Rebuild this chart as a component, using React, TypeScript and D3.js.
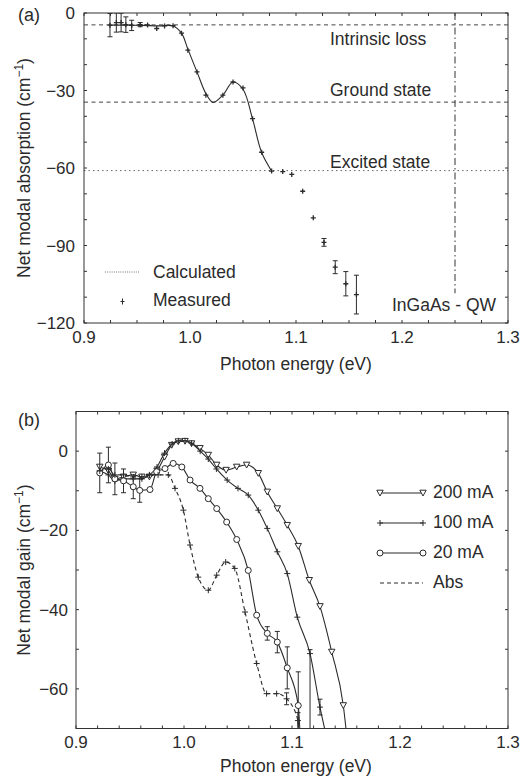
import React from "react";
import * as d3 from "d3";

const FONT = "'Liberation Sans', Arial, Helvetica, sans-serif";
const INK = "#2b2b2b";

// ---------------- Panel (a): Net modal absorption ----------------
const aMeasEnergy = [0.9245, 0.9305, 0.935, 0.9395, 0.945, 0.953, 0.96, 0.9686, 0.976, 0.984, 0.992, 0.998, 1.0066, 1.015, 1.031, 1.0406, 1.05, 1.059, 1.0676, 1.077, 1.0875, 1.096, 1.1063, 1.1163, 1.1264, 1.137, 1.147, 1.157];
const aMeasValue = [-4.7, -3.7, -3.7, -4.5, -4.8, -4.5, -4.6, -6, -5, -4.9, -7.8, -14.4, -22.8, -31.8, -31.8, -26.7, -29, -40.9, -53.9, -61.2, -61.4, -62.5, -69, -79.3, -88.8, -98.4, -104.8, -109];
const aMeasErr = [4.5, 3.7, 3.6, 3, 2, 0.8, 0, 0, 0, 0, 0, 0, 0, 0, 0, 0, 0, 0, 0, 0, 0, 0, 0, 0, 1.5, 2.5, 4.7, 7.5];

const aCalcEnergy = [0.925, 0.94, 0.955, 0.97, 0.984, 0.992, 0.998, 1.0066, 1.015, 1.0217, 1.031, 1.0406, 1.05, 1.059, 1.0676, 1.077];
const aCalcValue = [-4.7, -4.7, -4.8, -5, -5, -7.8, -14, -22.8, -31.2, -34.6, -31.8, -26.7, -29.5, -41, -54, -61.2];

const aLevelNames = ["Intrinsic loss", "Ground state", "Excited state"];
const aLevelValues = [-4.6, -34.5, -61];
const aCutoffEnergy = 1.25;
const aCutoffLowest = -108.5;
const aXTicks = [0.9, 1.0, 1.1, 1.2, 1.3];
const aYTicks = [0, -30, -60, -90, -120];
const aLegend = ["Calculated", "Measured"];

// ---------------- Panel (b): Net modal gain ----------------
const b200Energy = [0.922, 0.93, 0.936, 0.944, 0.953, 0.961, 0.968, 0.975, 0.982, 0.9886, 0.9947, 1.001, 1.007, 1.0148, 1.0225, 1.0303, 1.039, 1.0488, 1.058, 1.0688, 1.0771, 1.0864, 1.0956, 1.1058, 1.116, 1.1259, 1.1368, 1.1475, 1.153];
const b200Gain = [-4, -5, -7, -6.5, -6, -6.5, -6.5, -5, -1.5, 1.5, 2.4, 2.5, 1.9, 0.7, -1, -3.5, -4.8, -4, -3.5, -5.6, -10.3, -14.5, -18.7, -24, -32.6, -39.2, -50.7, -64.2, -78];

const b100Energy = [0.922, 0.93, 0.936, 0.944, 0.953, 0.961, 0.968, 0.975, 0.982, 0.989, 0.995, 1.001, 1.007, 1.015, 1.0225, 1.03, 1.04, 1.05, 1.0595, 1.0688, 1.0771, 1.0864, 1.0956, 1.1049, 1.1167, 1.1259, 1.1353];
const b100Gain = [-5, -6, -7.5, -7, -7, -7, -6, -4, -0.5, 1.8, 2.6, 2.6, 2, 0, -2, -4.5, -7.3, -9.4, -11.1, -14.9, -19.5, -25.4, -30.9, -41.9, -51.1, -64.6, -76];
const b100ErrUp = [0, 0, 0, 0, 0, 0, 0, 0, 0, 0, 0, 0, 0, 0, 0, 0, 0, 0, 0, 0, 0, 0, 0, 0, 1, 2, 0];
const b100ErrDown = [0, 0, 0, 0, 0, 0, 0, 0, 0, 0, 0, 0, 0, 0, 0, 0, 0, 0, 0, 0, 0, 0, 0, 0, 25, 2, 0];

const b20Energy = [0.922, 0.93, 0.936, 0.944, 0.953, 0.959, 0.9685, 0.9747, 0.9824, 0.99, 0.998, 1.0056, 1.0148, 1.0225, 1.0303, 1.0395, 1.0488, 1.0595, 1.0673, 1.0771, 1.0864, 1.0956, 1.1058, 1.1082];
const b20Gain = [-5.5, -3.5, -7, -7.5, -9, -9.9, -9.7, -5.2, -4.4, -3.1, -4, -7.3, -9.4, -12, -14.5, -17.9, -22.3, -30.1, -41.4, -46, -48.2, -54.7, -64.2, -76];
const b20ErrUp = [5, 4.5, 4, 3, 3, 3, 0, 0, 0, 0, 0, 0, 0, 0, 0, 0, 0, 0, 0, 1.7, 2.7, 5.3, 8.5, 0];
const b20ErrDown = [5, 4.5, 4, 3, 3, 3, 0, 0, 0, 0, 0, 0, 0, 0, 0, 0, 0, 0, 0, 1.7, 2.7, 5.3, 10, 0];

const bAbsEnergy = [0.922, 0.93, 0.936, 0.944, 0.953, 0.961, 0.968, 0.976, 0.9855, 0.9917, 0.9994, 1.0056, 1.0132, 1.0225, 1.0303, 1.0386, 1.047, 1.0565, 1.0673, 1.0765, 1.0858, 1.095, 1.1055, 1.1065];
const bAbsGain = [-5, -4.5, -6, -6, -6.5, -6.5, -6, -6, -6, -9.4, -14.9, -23.7, -31.8, -35.1, -31.3, -28, -29.6, -40.6, -53.6, -61.2, -61.2, -62.5, -68, -76];
const bAbsErr = [0, 0, 0, 0, 0, 0, 0, 0, 0, 0, 0, 0, 0, 0, 0, 0, 0, 0, 0, 0, 0, 1.5, 2, 0];

const bXTicks = [0.9, 1.0, 1.1, 1.2, 1.3];
const bYTicks = [0, -20, -40, -60];
const bLegend = ["200 mA", "100 mA", "20 mA", "Abs"];

type MarkerKind = "tri" | "plus" | "circle" | "none";

function Marker({ kind, x, y }: { kind: MarkerKind; x: number; y: number }) {
  if (kind === "tri")
    return <path d={`M${x - 3.2},${y - 2.8}L${x + 3.2},${y - 2.8}L${x},${y + 3}Z`} fill="#fff" stroke={INK} strokeWidth={1} />;
  if (kind === "circle") return <circle cx={x} cy={y} r={3} fill="#fff" stroke={INK} strokeWidth={1} />;
  if (kind === "plus")
    return <path d={`M${x - 3},${y}H${x + 3}M${x},${y - 3}V${y + 3}`} stroke={INK} strokeWidth={1} fill="none" />;
  return null;
}

function ErrBar({ x, y1, y2 }: { x: number; y1: number; y2: number }) {
  return (
    <path d={`M${x},${y1}V${y2}M${x - 2.5},${y1}H${x + 2.5}M${x - 2.5},${y2}H${x + 2.5}`} stroke={INK} strokeWidth={1} fill="none" />
  );
}

export default function App() {
  const xa = d3.scaleLinear().domain([0.9, 1.3]).range([84, 508]);
  const ya = d3.scaleLinear().domain([-120, 0]).range([323, 13]);
  const xb = d3.scaleLinear().domain([0.9, 1.3]).range([76, 508]);
  const yb = d3.scaleLinear().domain([-70, 10]).range([728.5, 411.5]);
  const fmtX = d3.format(".1f");
  const fmtY = d3.format("d");

  const aCalcLine = d3
    .line<number>()
    .x((_, i) => xa(aCalcEnergy[i]))
    .y((d) => ya(d))
    .curve(d3.curveCatmullRom.alpha(0.5))(aCalcValue) as string;

  const bSeries = [
    { name: bLegend[0], E: b200Energy, V: b200Gain, up: null as number[] | null, dn: null as number[] | null, marker: "tri" as MarkerKind, dash: undefined as string | undefined },
    { name: bLegend[1], E: b100Energy, V: b100Gain, up: b100ErrUp, dn: b100ErrDown, marker: "plus" as MarkerKind, dash: undefined },
    { name: bLegend[2], E: b20Energy, V: b20Gain, up: b20ErrUp, dn: b20ErrDown, marker: "circle" as MarkerKind, dash: undefined },
    { name: bLegend[3], E: bAbsEnergy, V: bAbsGain, up: bAbsErr, dn: bAbsErr, marker: "plus" as MarkerKind, dash: "4,3" },
  ];

  const [ax0, ax1] = xa.range();
  const [ay0, ay1] = ya.range();
  const [bx0, bx1] = xb.range();
  const [by0, by1] = yb.range();

  const aMinorX = d3.range(0.9, 1.3001, 0.025);
  const aMinorY = d3.range(-120, 0.01, 10);
  const bMinorX = d3.range(0.9, 1.3001, 0.02);
  const bMinorY = d3.range(-70, 10.01, 10);

  return (
    <svg width={521} height={777} style={{ position: "absolute", left: 0, top: 0, background: "#fff" }} fontFamily={FONT} fill={INK}>
      <defs>
        <clipPath id="clipA">
          <rect x={ax0} y={ay1} width={ax1 - ax0} height={ay0 - ay1} />
        </clipPath>
        <clipPath id="clipB">
          <rect x={bx0} y={by1} width={bx1 - bx0} height={by0 - by1} />
        </clipPath>
      </defs>

      {/* ================= Panel (a) ================= */}
      <text x={18} y={21} fontSize={18}>(a)</text>
      {aLevelValues.map((v, i) => (
        <line key={"lv" + i} x1={ax0} x2={ax1} y1={ya(v)} y2={ya(v)} stroke={i === 2 ? "#666" : "#444"} strokeWidth={1} strokeDasharray={i === 2 ? "1.5,3" : "4,3.5"} />
      ))}
      <line x1={xa(aCutoffEnergy)} x2={xa(aCutoffEnergy)} y1={ay1} y2={ya(aCutoffLowest)} stroke="#333" strokeWidth={1} strokeDasharray="7,3,1.5,3" />
      <text x={330} y={ya(aLevelValues[0]) + 20} fontSize={17.5}>{aLevelNames[0]}</text>
      <text x={330} y={ya(aLevelValues[1]) - 6} fontSize={17.5}>{aLevelNames[1]}</text>
      <text x={330} y={ya(aLevelValues[2]) - 3} fontSize={17.5}>{aLevelNames[2]}</text>

      <g clipPath="url(#clipA)">
        <path d={aCalcLine} fill="none" stroke={INK} strokeWidth={1.1} />
        {aMeasEnergy.map((e, i) => (
          <g key={"am" + i}>
            {aMeasErr[i] > 0 && <ErrBar x={xa(e)} y1={ya(aMeasValue[i] + aMeasErr[i])} y2={ya(aMeasValue[i] - aMeasErr[i])} />}
            <path d={`M${xa(e) - 2.5},${ya(aMeasValue[i])}H${xa(e) + 2.5}M${xa(e)},${ya(aMeasValue[i]) - 2.5}V${ya(aMeasValue[i]) + 2.5}`} stroke={INK} strokeWidth={1.3} />
          </g>
        ))}
      </g>

      <rect x={ax0} y={ay1} width={ax1 - ax0} height={ay0 - ay1} fill="none" stroke="#333" strokeWidth={1} />
      {aMinorX.map((t, i) => (
        <g key={"amx" + i} stroke="#333">
          <line x1={xa(t)} x2={xa(t)} y1={ay0} y2={ay0 - 3} />
          <line x1={xa(t)} x2={xa(t)} y1={ay1} y2={ay1 + 3} />
        </g>
      ))}
      {aMinorY.map((t, i) => (
        <g key={"amy" + i} stroke="#333">
          <line x1={ax0} x2={ax0 + 3} y1={ya(t)} y2={ya(t)} />
          <line x1={ax1} x2={ax1 - 3} y1={ya(t)} y2={ya(t)} />
        </g>
      ))}
      {aXTicks.map((t) => (
        <text key={"axt" + t} x={xa(t)} y={343} fontSize={17} textAnchor="middle">{fmtX(t)}</text>
      ))}
      {aYTicks.map((t) => (
        <text key={"ayt" + t} x={75} y={ya(t) + 6} fontSize={17} textAnchor="end">{fmtY(t)}</text>
      ))}
      <text x={(ax0 + ax1) / 2} y={370} fontSize={17.5} textAnchor="middle">Photon energy (eV)</text>
      <text transform={`translate(30,${(ay0 + ay1) / 2}) rotate(-90)`} fontSize={17.5} textAnchor="middle">
        Net modal absorption (cm<tspan dy={-7} fontSize={12}>−1</tspan><tspan dy={7}>)</tspan>
      </text>

      <line x1={105} x2={140} y1={272} y2={272} stroke="#777" strokeWidth={1} strokeDasharray="1,1.2" />
      <text x={153} y={278} fontSize={17.5}>{aLegend[0]}</text>
      <path d="M120.5,301.5H124.5M122.5,298.5V304.5" stroke={INK} strokeWidth={1} />
      <text x={153} y={306} fontSize={17.5}>{aLegend[1]}</text>
      <text x={392} y={311} fontSize={17.5}>InGaAs - QW</text>

      {/* ================= Panel (b) ================= */}
      <text x={18} y={426} fontSize={18}>(b)</text>
      <g clipPath="url(#clipB)">
        {bSeries.map((s, si) => {
          const d = d3
            .line<number>()
            .x((_, i) => xb(s.E[i]))
            .y((v) => yb(v))
            .curve(d3.curveMonotoneX)(s.V) as string;
          return (
            <g key={"bs" + si}>
              <path d={d} fill="none" stroke={INK} strokeWidth={1.1} strokeDasharray={s.dash} />
              {s.E.map((e, i) => {
                const up = s.up ? s.up[i] : 0;
                const dn = s.dn ? s.dn[i] : 0;
                return up > 0 || dn > 0 ? <ErrBar key={"be" + i} x={xb(e)} y1={yb(s.V[i] + up)} y2={yb(s.V[i] - dn)} /> : null;
              })}
              {s.E.map((e, i) => (s.V[i] >= -70 ? <Marker key={"bm" + i} kind={s.marker} x={xb(e)} y={yb(s.V[i])} /> : null))}
            </g>
          );
        })}
      </g>

      <rect x={bx0} y={by1} width={bx1 - bx0} height={by0 - by1} fill="none" stroke="#333" strokeWidth={1} />
      {bMinorX.map((t, i) => (
        <g key={"bmx" + i} stroke="#333">
          <line x1={xb(t)} x2={xb(t)} y1={by0} y2={by0 - 3} />
          <line x1={xb(t)} x2={xb(t)} y1={by1} y2={by1 + 3} />
        </g>
      ))}
      {bMinorY.map((t, i) => (
        <g key={"bmy" + i} stroke="#333">
          <line x1={bx0} x2={bx0 + 3} y1={yb(t)} y2={yb(t)} />
          <line x1={bx1} x2={bx1 - 3} y1={yb(t)} y2={yb(t)} />
        </g>
      ))}
      {bXTicks.map((t) => (
        <text key={"bxt" + t} x={xb(t)} y={748} fontSize={17} textAnchor="middle">{fmtX(t)}</text>
      ))}
      {bYTicks.map((t) => (
        <text key={"byt" + t} x={68} y={yb(t) + 6} fontSize={17} textAnchor="end">{fmtY(t)}</text>
      ))}
      <text x={(bx0 + bx1) / 2 + 4} y={772} fontSize={17.5} textAnchor="middle">Photon energy (eV)</text>
      <text transform={`translate(30,${(by0 + by1) / 2}) rotate(-90)`} fontSize={17.5} textAnchor="middle">
        Net modal gain (cm<tspan dy={-7} fontSize={12}>−1</tspan><tspan dy={7}>)</tspan>
      </text>

      {bSeries.map((s, i) => {
        const ly = 493 + i * 30;
        return (
          <g key={"bl" + i}>
            <line x1={380} x2={423} y1={ly} y2={ly} stroke={INK} strokeWidth={1.1} strokeDasharray={s.dash} />
            {!s.dash && <Marker kind={s.marker} x={380} y={ly} />}
            {!s.dash && <Marker kind={s.marker} x={423} y={ly} />}
            <text x={433} y={ly + 5} fontSize={17.5}>{s.name}</text>
          </g>
        );
      })}
    </svg>
  );
}
